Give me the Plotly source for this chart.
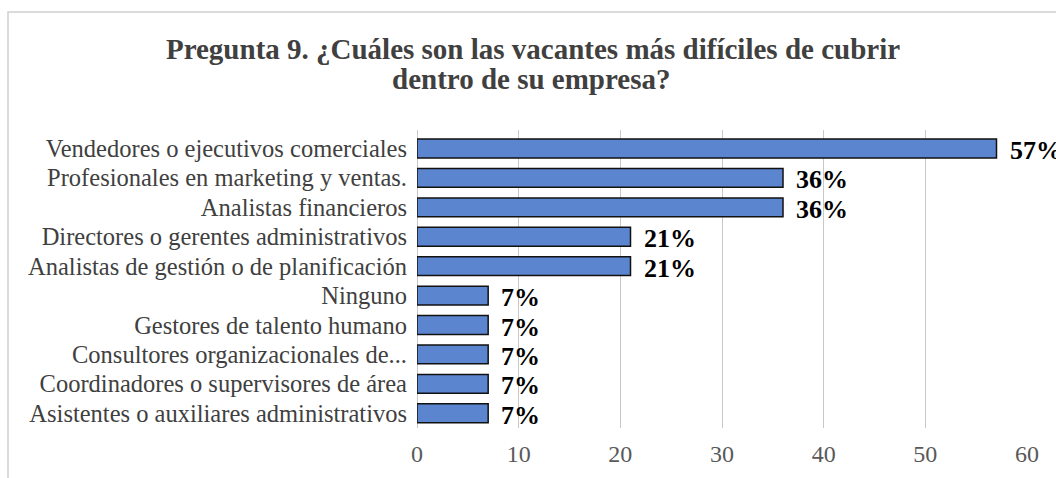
import plotly.graph_objects as go

categories = [
    "Vendedores o ejecutivos comerciales",
    "Profesionales en marketing y ventas.",
    "Analistas financieros",
    "Directores o gerentes administrativos",
    "Analistas de gestión o de planificación",
    "Ninguno",
    "Gestores de talento humano",
    "Consultores organizacionales de...",
    "Coordinadores o supervisores de área",
    "Asistentes o auxiliares administrativos",
]
values = [57, 36, 36, 21, 21, 7, 7, 7, 7, 7]
labels = ["57%", "36%", "36%", "21%", "21%", "7%", "7%", "7%", "7%", "7%"]
tick_vals = [0, 10, 20, 30, 40, 50, 60]
title_lines = ["Pregunta 9. ¿Cuáles son las vacantes más difíciles de cubrir",
               "dentro de su empresa?"]

FONT = "Liberation Serif, Times New Roman, serif"
W, H = 1056, 478
ML, MR, MT, MB = 417, 29, 130, 50
PW, PH = W - ML - MR, H - MT - MB

fig = go.Figure()
fig.add_trace(go.Bar(
    y=categories,
    x=values,
    orientation="h",
    marker=dict(color="#5B86CF", line=dict(color="#111111", width=1.5)),
    width=0.64,
    hoverinfo="skip",
))

# value labels placed at bar ends through the axes
for cat, v, lab in zip(categories, values, labels):
    fig.add_annotation(
        x=v, y=cat, xref="x", yref="y",
        text="<b>%s</b>" % lab, showarrow=False,
        xanchor="left", yanchor="middle", xshift=11, yshift=-2,
        font=dict(family=FONT, size=26, color="#000000"),
    )

fig.update_layout(
    width=W,
    height=H,
    paper_bgcolor="white",
    plot_bgcolor="white",
    margin=dict(l=ML, r=MR, t=MT, b=MB, autoexpand=False),
    showlegend=False,
    title=dict(
        text="<b>%s</b>" % title_lines[0],
        x=533 / W, xanchor="center", xref="container",
        y=1 - 49 / H, yanchor="middle", yref="container",
        font=dict(family=FONT, size=29, color="#404040"),
    ),
)
fig.add_annotation(
    xref="paper", yref="paper",
    x=(531 - ML) / PW, y=(H - MB - 79) / PH,
    text="<b>%s</b>" % title_lines[1], showarrow=False,
    xanchor="center", yanchor="middle",
    font=dict(family=FONT, size=29, color="#404040"),
)

fig.update_xaxes(
    range=[0, 60],
    tickvals=tick_vals,
    showgrid=True,
    gridcolor="#C8C8C8",
    gridwidth=1,
    zeroline=True,
    zerolinecolor="#C8C8C8",
    zerolinewidth=1,
    tickfont=dict(family=FONT, size=24, color="#595959"),
    ticks="",
    ticklabelstandoff=9,
    showline=False,
)
fig.update_yaxes(
    autorange="reversed",
    tickfont=dict(family=FONT, size=24.5, color="#404040"),
    ticks="",
    ticklabelstandoff=9,
    showline=False,
)

# chart border (extends beyond right/bottom edge as in the reference)
fig.add_shape(type="rect", xref="paper", yref="paper",
              x0=(8 - ML) / PW, x1=1.2,
              y0=-0.5, y1=(H - MB - 12) / PH,
              line=dict(color="#D0D0D0", width=1.5), layer="below")

fig.write_html("out.html", config={"displayModeBar": False},
               post_script="document.body.style.margin='0';")
